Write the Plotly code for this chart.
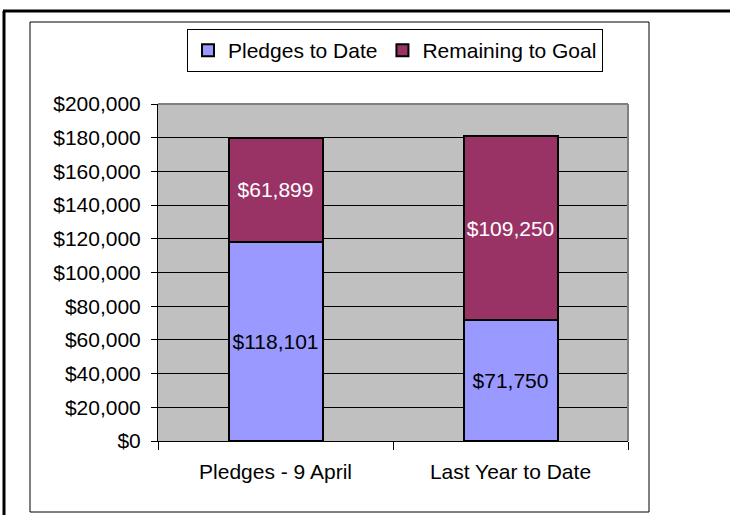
import plotly.graph_objects as go

categories = ["Pledges - 9 April", "Last Year to Date"]
pledges = [118101, 71750]
remaining = [61899, 109250]
series_names = ["Pledges to Date", "Remaining to Goal"]
tick_values = [0, 20000, 40000, 60000, 80000, 100000, 120000, 140000, 160000, 180000, 200000]

W, H = 730, 515
L, R, T, B = 158, 628, 104, 441  # plot area in pixels


def px(x):
    return (x - L) / (R - L)


def py(y):
    return (B - y) / (B - T)


FONT = "Liberation Sans, Arial, sans-serif"
FS = 21

fig = go.Figure()
fig.add_trace(go.Bar(
    x=categories, y=pledges, name=series_names[0],
    marker=dict(color="#9999FF", line=dict(color="black", width=2)),
    text=[f"${v:,}" for v in pledges], textposition="inside",
    insidetextanchor="middle", textangle=0,
    textfont=dict(color="black", size=FS, family=FONT),
))
fig.add_trace(go.Bar(
    x=categories, y=remaining, name=series_names[1],
    marker=dict(color="#993366", line=dict(color="black", width=2)),
    text=[f"${v:,}" for v in remaining], textposition="inside",
    insidetextanchor="middle", textangle=0,
    textfont=dict(color="white", size=FS, family=FONT),
))

shapes = [
    # outer thick frame (left and top)
    dict(type="line", xref="paper", yref="paper", x0=px(4), x1=px(4), y0=py(11), y1=py(530),
         line=dict(color="black", width=3)),
    dict(type="line", xref="paper", yref="paper", x0=px(3), x1=px(740), y0=py(11), y1=py(11),
         line=dict(color="black", width=3)),
    # inner chart frame
    dict(type="rect", xref="paper", yref="paper", x0=px(30), x1=px(649), y0=py(512), y1=py(22),
         line=dict(color="black", width=1)),
    # plot area gray border top and right
    dict(type="line", xref="paper", yref="paper", x0=0, x1=1, y0=1, y1=1,
         line=dict(color="#808080", width=2)),
    dict(type="line", xref="paper", yref="paper", x0=1, x1=1, y0=0, y1=1,
         line=dict(color="#808080", width=2)),
]

fig.update_layout(
    width=W, height=H,
    margin=dict(l=L, r=W - R, t=T, b=H - B, pad=0),
    barmode="stack", bargap=0.6,
    paper_bgcolor="white", plot_bgcolor="#C0C0C0",
    font=dict(family=FONT, size=FS, color="black"),
    showlegend=True,
    legend=dict(
        orientation="h", x=px(187), y=py(29), xanchor="left", yanchor="top",
        bgcolor="white", bordercolor="black", borderwidth=1,
        font=dict(size=FS, family=FONT, color="black"),
        traceorder="normal", itemwidth=30, tracegroupgap=0,
    ),
    shapes=shapes,
)
fig.update_xaxes(
    showgrid=False, showline=True, linecolor="black", linewidth=1,
    ticks="outside", tickson="boundaries", ticklen=8, tickcolor="black",
    ticklabelstandoff=12, tickfont=dict(size=FS, family=FONT, color="black"),
)
fig.update_yaxes(
    range=[0, 200000], tickmode="array", tickvals=tick_values,
    ticktext=[f"${v:,}" for v in tick_values],
    showgrid=True, gridcolor="black", gridwidth=1,
    showline=True, linecolor="black", linewidth=1,
    ticks="outside", ticklen=6, tickcolor="black", ticklabelstandoff=6,
    tickfont=dict(size=FS, family=FONT, color="black"), zeroline=False,
)

fig.write_html(
    "out.html",
    config={"displayModeBar": False},
    post_script="document.body.style.margin='0';document.body.style.padding='0';",
)
